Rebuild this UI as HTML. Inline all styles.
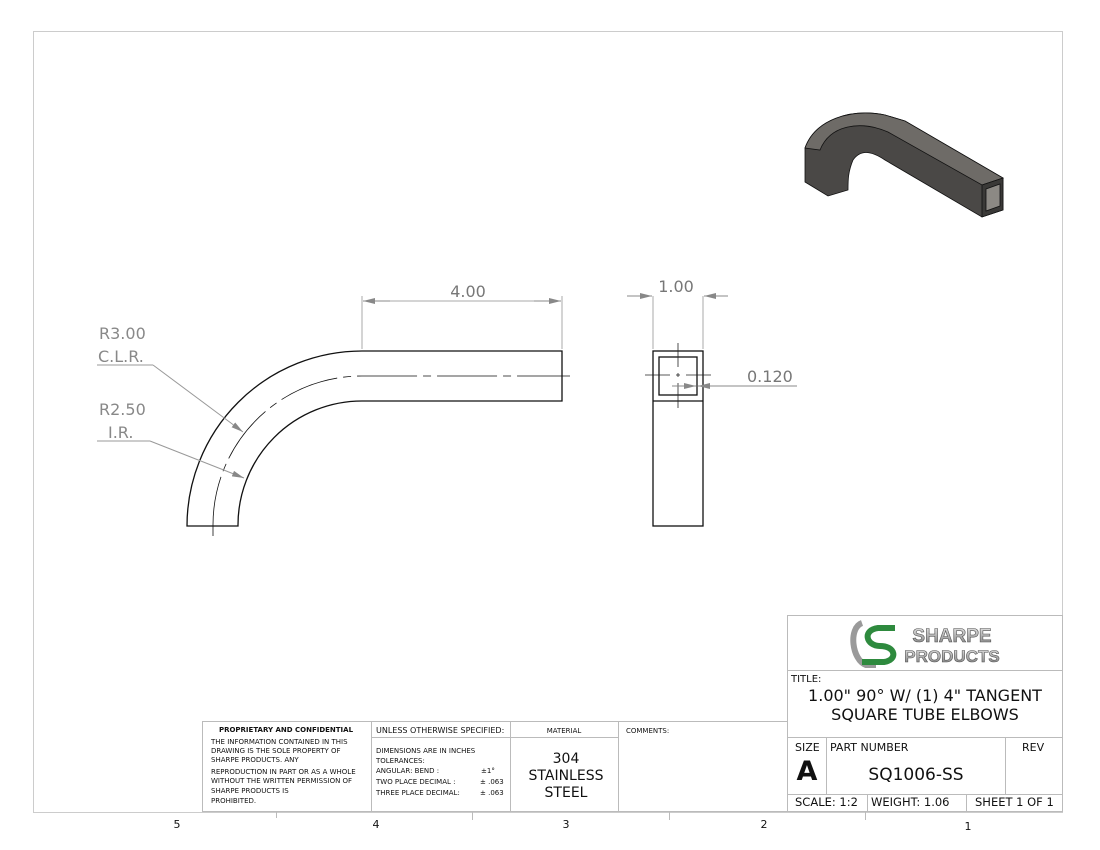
<!DOCTYPE html>
<html><head><meta charset="utf-8"><style>
html,body{margin:0;padding:0;background:#fff;}
svg{display:block;font-family:"DejaVu Sans","Liberation Sans",sans-serif;}
</style></head><body>
<svg width="1100" height="850" viewBox="0 0 1100 850" xmlns="http://www.w3.org/2000/svg">
<defs>
<marker id="ar" markerWidth="12" markerHeight="6" refX="12" refY="3" orient="auto" markerUnits="userSpaceOnUse"><path d="M0,0 L12,3 L0,6 z" fill="#888"/></marker>
<linearGradient id="lg" x1="0" y1="0" x2="0" y2="1"><stop offset="0" stop-color="#e8e8e8"/><stop offset="1" stop-color="#777"/></linearGradient>
</defs>
<rect x="33.5" y="31.5" width="1029" height="781" fill="none" stroke="#ccc" stroke-width="1"/>

<!-- bent tube front view -->
<g fill="none" stroke="#111" stroke-width="1.3">
<path d="M187,526 A175,175 0 0 1 362,351 L562,351 L562,401 L362,401 A124,124 0 0 0 238,526 Z"/>
</g>
<path d="M213,536 L213,526 A149,149 0 0 1 362,376 L570,376" fill="none" stroke="#111" stroke-width="0.8" stroke-dasharray="60,6,8,6"/>
<!-- dim 4.00 -->
<g stroke="#aaa" stroke-width="1" fill="none">
<line x1="362" y1="296" x2="362" y2="349"/><line x1="562" y1="296" x2="562" y2="349"/>
</g>
<line x1="390" y1="301" x2="363" y2="301" stroke="#888" marker-end="url(#ar)"/>
<line x1="534" y1="301" x2="561" y2="301" stroke="#888" marker-end="url(#ar)"/>
<line x1="390" y1="301" x2="534" y2="301" stroke="#aaa"/>
<text x="468" y="297" font-size="16" fill="#777" text-anchor="middle">4.00</text>
<!-- radius leaders -->
<line x1="97" y1="365" x2="153" y2="365" stroke="#999"/>
<line x1="153" y1="365" x2="243" y2="432" stroke="#999" marker-end="url(#ar)"/>
<line x1="97" y1="441" x2="150" y2="441" stroke="#999"/>
<line x1="150" y1="441" x2="244" y2="478" stroke="#999" marker-end="url(#ar)"/>
<text x="99" y="339" font-size="16" fill="#888">R3.00</text>
<text x="98" y="362" font-size="16" fill="#888">C.L.R.</text>
<text x="99" y="415" font-size="16" fill="#888">R2.50</text>
<text x="108" y="438" font-size="16" fill="#888">I.R.</text>

<!-- side view -->
<g fill="none" stroke="#111" stroke-width="1.3">
<rect x="653" y="351" width="50" height="175"/>
<line x1="653" y1="401" x2="703" y2="401"/>
<rect x="659" y="357" width="38" height="38"/>
</g>
<g stroke="#222" stroke-width="0.8">
<line x1="678" y1="343" x2="678" y2="367"/><line x1="678" y1="373" x2="678" y2="377"/><line x1="678" y1="383" x2="678" y2="408"/>
<line x1="645" y1="375" x2="670" y2="375"/><line x1="676" y1="375" x2="680" y2="375"/><line x1="686" y1="375" x2="711" y2="375"/>
</g>
<g stroke="#aaa" stroke-width="1"><line x1="653" y1="296" x2="653" y2="349"/><line x1="703" y1="296" x2="703" y2="349"/></g>
<line x1="627" y1="296" x2="652" y2="296" stroke="#888" marker-end="url(#ar)"/>
<line x1="728" y1="296" x2="704" y2="296" stroke="#888" marker-end="url(#ar)"/>
<text x="676" y="292" font-size="16" fill="#777" text-anchor="middle">1.00</text>
<line x1="672" y1="386" x2="696" y2="386" stroke="#888" marker-end="url(#ar)"/>
<line x1="797" y1="386" x2="698" y2="386" stroke="#888" marker-end="url(#ar)"/>
<text x="747" y="382" font-size="16" fill="#777">0.120</text>

<!-- iso 3d -->
<g stroke="#111" stroke-width="0.8">
<path d="M805,148 C815,120 850,108 885,115 L905,121 L1003,178 L1003,210 L982,217 L885,160 C870,150 860,150 853,160 C848,172 848,180 848,190 L828,196 L805,182 Z" fill="#4a4846"/>
<path d="M805,148 C815,120 850,108 885,115 L905,121 L1003,178 L982,185 L888,132 C860,120 830,125 820,150 Z" fill="#6e6b67"/>
<path d="M982,185 L1003,178 L1003,210 L982,217 Z" fill="#3a3937"/>
<path d="M986,189 L1000,184 L1000,206 L986,211 Z" fill="#8c8984"/>
</g>

<!-- bottom table -->
<g fill="none" stroke="#bbb" stroke-width="1">
<rect x="202.5" y="721.5" width="585" height="90"/>
<line x1="371.5" y1="721" x2="371.5" y2="812"/>
<line x1="510.5" y1="721" x2="510.5" y2="812"/>
<line x1="618.5" y1="721" x2="618.5" y2="812"/>
<line x1="371" y1="737.5" x2="618" y2="737.5"/>
<rect x="787.5" y="615.5" width="275" height="196"/>
<line x1="787" y1="670.5" x2="1063" y2="670.5"/>
<line x1="787" y1="737.5" x2="1063" y2="737.5"/>
<line x1="787" y1="794.5" x2="1063" y2="794.5"/>
<line x1="826.5" y1="737" x2="826.5" y2="794"/>
<line x1="1005.5" y1="737" x2="1005.5" y2="794"/>
<line x1="867.5" y1="794" x2="867.5" y2="812"/>
<line x1="966.5" y1="794" x2="966.5" y2="812"/>
<line x1="276.5" y1="812" x2="276.5" y2="818"/>
<line x1="472.5" y1="812" x2="472.5" y2="820"/>
<line x1="669.5" y1="812" x2="669.5" y2="820"/>
<line x1="865.5" y1="812" x2="865.5" y2="820"/>
</g>
<g font-size="7" fill="#111">
<text x="286" y="732" text-anchor="middle" font-weight="bold">PROPRIETARY AND CONFIDENTIAL</text>
<text x="211" y="744">THE INFORMATION CONTAINED IN THIS</text>
<text x="211" y="753">DRAWING IS THE SOLE PROPERTY OF</text>
<text x="211" y="762">SHARPE PRODUCTS.  ANY</text>
<text x="211" y="774">REPRODUCTION IN PART OR AS A WHOLE</text>
<text x="211" y="783">WITHOUT THE WRITTEN PERMISSION OF</text>
<text x="211" y="793">SHARPE PRODUCTS IS</text>
<text x="211" y="803">PROHIBITED.</text>
<text x="376" y="733" font-size="8">UNLESS OTHERWISE SPECIFIED:</text>
<text x="376" y="753">DIMENSIONS ARE IN INCHES</text>
<text x="376" y="763">TOLERANCES:</text>
<text x="376" y="773">ANGULAR: BEND :</text><text x="481" y="773">±1°</text>
<text x="376" y="784">TWO PLACE DECIMAL  :</text><text x="480" y="784">± .063</text>
<text x="376" y="795">THREE PLACE DECIMAL:</text><text x="480" y="795">± .063</text>
<text x="564" y="733" text-anchor="middle">MATERIAL</text>
<text x="626" y="733">COMMENTS:</text>
</g>
<g font-size="14" fill="#111" text-anchor="middle">
<text x="566" y="763">304</text><text x="566" y="780">STAINLESS</text><text x="566" y="797">STEEL</text>
</g>
<!-- logo -->
<g>
<path d="M862,623 C848,628 852,660 866,665 L876,665" fill="none" stroke="#9a9a9a" stroke-width="6"/>
<path d="M895,628 L878,628 C862,630 866,646 880,646 C896,646 898,660 884,662 L862,662" fill="none" stroke="#2e8a3e" stroke-width="6"/>
<text x="952" y="642" font-size="19" font-weight="bold" fill="url(#lg)" stroke="#555" stroke-width="0.6" text-anchor="middle" font-family="Liberation Sans Narrow,Liberation Sans,sans-serif">SHARPE</text>
<text x="952" y="662" font-size="17" font-weight="bold" fill="url(#lg)" stroke="#555" stroke-width="0.6" text-anchor="middle" font-family="Liberation Sans Narrow,Liberation Sans,sans-serif">PRODUCTS</text>
</g>
<g fill="#111">
<text x="791" y="682" font-size="10">TITLE:</text>
<text x="925" y="701" font-size="16" text-anchor="middle">1.00" 90° W/ (1) 4" TANGENT</text>
<text x="925" y="720" font-size="16" text-anchor="middle">SQUARE TUBE ELBOWS</text>
<text x="795" y="751" font-size="11">SIZE</text>
<text x="807" y="780" font-size="27" font-weight="bold" text-anchor="middle">A</text>
<text x="830" y="751" font-size="11">PART NUMBER</text>
<text x="1022" y="751" font-size="11">REV</text>
<text x="916" y="780" font-size="17" text-anchor="middle">SQ1006-SS</text>
<text x="795" y="806" font-size="11.5">SCALE: 1:2</text>
<text x="871" y="806" font-size="11.5">WEIGHT: 1.06</text>
<text x="975" y="806" font-size="11.5">SHEET 1 OF 1</text>
</g>
<g font-size="11" fill="#111" text-anchor="middle">
<text x="177" y="828">5</text><text x="376" y="828">4</text><text x="566" y="828">3</text><text x="764" y="828">2</text><text x="968" y="830">1</text>
</g>
</svg>
</body></html>
